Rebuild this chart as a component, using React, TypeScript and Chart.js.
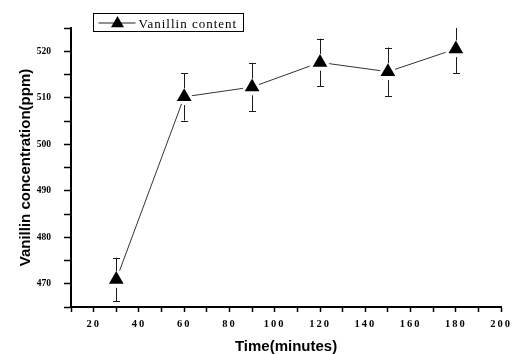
import React, { useEffect, useRef } from 'react';
import { Chart, registerables } from 'chart.js';

Chart.register(...registerables);

const timeMinutes = [30, 60, 90, 120, 150, 180];
const vanillinPpm = [470.9, 510.2, 512.3, 517.6, 515.6, 520.5];
const errorPpm = [4.7, 5.1, 5.2, 5.1, 5.2, 5.2];
const xLabeledTicks = [20, 40, 60, 80, 100, 120, 140, 160, 180, 200];
const yLabeledTicks = [470, 480, 490, 500, 510, 520];
const seriesLabel = 'Vanillin content';
const xTitle = 'Time(minutes)';
const yTitle = 'Vanillin concentration(ppm)';

const MARKER_R = 8.5;

function triPath(ctx: CanvasRenderingContext2D, x: number, y: number, r: number) {
  const h = (r * Math.sqrt(3)) / 2;
  ctx.beginPath();
  ctx.moveTo(x, y - r);
  ctx.lineTo(x + h, y + r / 2);
  ctx.lineTo(x - h, y + r / 2);
  ctx.closePath();
}

const markerPlugin = {
  id: 'markerErr',
  afterUpdate(chart: any) {
    const xs = chart.scales.x;
    if (xs && !xs.__spaced) {
      const orig = xs.drawLabels;
      xs.drawLabels = function (area: any) {
        const c = this.ctx;
        c.save();
        c.letterSpacing = '2px';
        orig.call(this, area);
        c.restore();
      };
      xs.__spaced = true;
    }
  },
  afterDatasetsDraw(chart: any) {
    const ctx: CanvasRenderingContext2D = chart.ctx;
    const meta = chart.getDatasetMeta(0);
    const ys = chart.scales.y;
    const area = chart.chartArea;
    ctx.save();
    ctx.beginPath();
    ctx.rect(area.left - 20, area.top, area.right - area.left + 40, area.bottom - area.top);
    ctx.clip();
    meta.data.forEach((pt: any, i: number) => {
      const x = pt.x;
      const y = pt.y;
      triPath(ctx, x, y, MARKER_R);
      ctx.lineWidth = 6;
      ctx.lineJoin = 'round';
      ctx.strokeStyle = '#ffffff';
      ctx.stroke();
      ctx.fillStyle = '#000000';
      ctx.fill();
      const yTop = ys.getPixelForValue(vanillinPpm[i] + errorPpm[i]);
      const yBot = ys.getPixelForValue(vanillinPpm[i] - errorPpm[i]);
      const xc = Math.round(x) + 0.5;
      ctx.strokeStyle = '#1a1a1a';
      ctx.lineWidth = 1;
      ctx.beginPath();
      ctx.moveTo(xc, yTop);
      ctx.lineTo(xc, y - MARKER_R);
      ctx.moveTo(xc, y + MARKER_R / 2 + 4);
      ctx.lineTo(xc, yBot);
      ctx.moveTo(xc - 3.5, Math.round(yTop) + 0.5);
      ctx.lineTo(xc + 3.5, Math.round(yTop) + 0.5);
      ctx.moveTo(xc - 3.5, Math.round(yBot) + 0.5);
      ctx.lineTo(xc + 3.5, Math.round(yBot) + 0.5);
      ctx.stroke();
    });
    ctx.restore();
  },
  afterDraw(chart: any) {
    const ctx: CanvasRenderingContext2D = chart.ctx;
    const area = chart.chartArea;
    const bx = Math.round(area.left) + 22.5;
    const by = Math.round(area.top) - 15 + 0.5;
    ctx.save();
    ctx.strokeStyle = '#000';
    ctx.lineWidth = 1;
    ctx.strokeRect(bx, by, 150, 18);
    ctx.beginPath();
    ctx.moveTo(bx + 5, by + 9.5);
    ctx.lineTo(bx + 42, by + 9.5);
    ctx.strokeStyle = '#222';
    ctx.stroke();
    triPath(ctx, bx + 24, by + 10, 7.5);
    ctx.fillStyle = '#000';
    ctx.fill();
    ctx.font = '13px "Liberation Serif"';
    (ctx as any).letterSpacing = '1px';
    ctx.textBaseline = 'alphabetic';
    ctx.textAlign = 'left';
    ctx.fillText(seriesLabel, bx + 45, by + 14);
    ctx.restore();
  },
};

export default function App() {
  const ref = useRef<HTMLCanvasElement | null>(null);
  useEffect(() => {
    if (!ref.current) return;
    const chart = new Chart(ref.current, {
      type: 'line',
      data: {
        datasets: [
          {
            label: seriesLabel,
            data: timeMinutes.map((t, i) => ({ x: t, y: vanillinPpm[i] })),
            borderColor: '#333333',
            borderWidth: 1,
            pointRadius: 0,
            pointHoverRadius: 0,
            fill: false,
            tension: 0,
          },
        ],
      },
      options: {
        animation: false,
        responsive: false,
        events: [],
        layout: { padding: { top: 28, right: 13, left: 0, bottom: 0 } },
        plugins: { legend: { display: false }, tooltip: { enabled: false } },
        scales: {
          x: {
            type: 'linear',
            min: 10,
            max: 200,
            ticks: {
              stepSize: 10,
              autoSkip: false,
              maxRotation: 0,
              color: '#000',
              padding: 6,
              font: { family: '"Liberation Serif"', size: 10.5, weight: 'bold' },
              callback: (v: any) => (xLabeledTicks.includes(Number(v)) ? String(v) : ''),
            },
            grid: { drawOnChartArea: false, drawTicks: true, tickLength: 5, color: '#000', tickWidth: 1.5 },
            border: { display: true, color: '#000', width: 2 },
            title: {
              display: true,
              text: xTitle,
              color: '#000',
              font: { family: '"Liberation Sans"', size: 15, weight: 'bold', lineHeight: 1 },
              padding: { top: 0, bottom: 0 },
            },
            afterFit: (s: any) => {
              s.height = 47;
            },
          },
          y: {
            type: 'linear',
            min: 465,
            max: 525,
            ticks: {
              stepSize: 5,
              autoSkip: false,
              color: '#000',
              padding: 13,
              font: { family: '"Liberation Serif"', size: 9.5, weight: 'bold' },
              callback: (v: any) => (yLabeledTicks.includes(Number(v)) ? String(v) : ''),
            },
            grid: { drawOnChartArea: false, drawTicks: true, tickLength: 7, color: '#000', tickWidth: 1.5 },
            border: { display: true, color: '#000', width: 2 },
            title: {
              display: true,
              text: yTitle,
              color: '#000',
              font: { family: '"Liberation Sans"', size: 15, weight: 'bold', lineHeight: 1.2 },
              padding: { top: 17, bottom: 0 },
            },
            afterFit: (s: any) => {
              s.width = 71;
            },
          },
        },
      } as any,
      plugins: [markerPlugin],
    });
    return () => chart.destroy();
  }, []);
  return (
    <div style={{ position: 'fixed', left: 0, top: 0, width: 515, height: 354, background: '#fff' }}>
      <canvas ref={ref} width={515} height={354} style={{ display: 'block' }} />
    </div>
  );
}
